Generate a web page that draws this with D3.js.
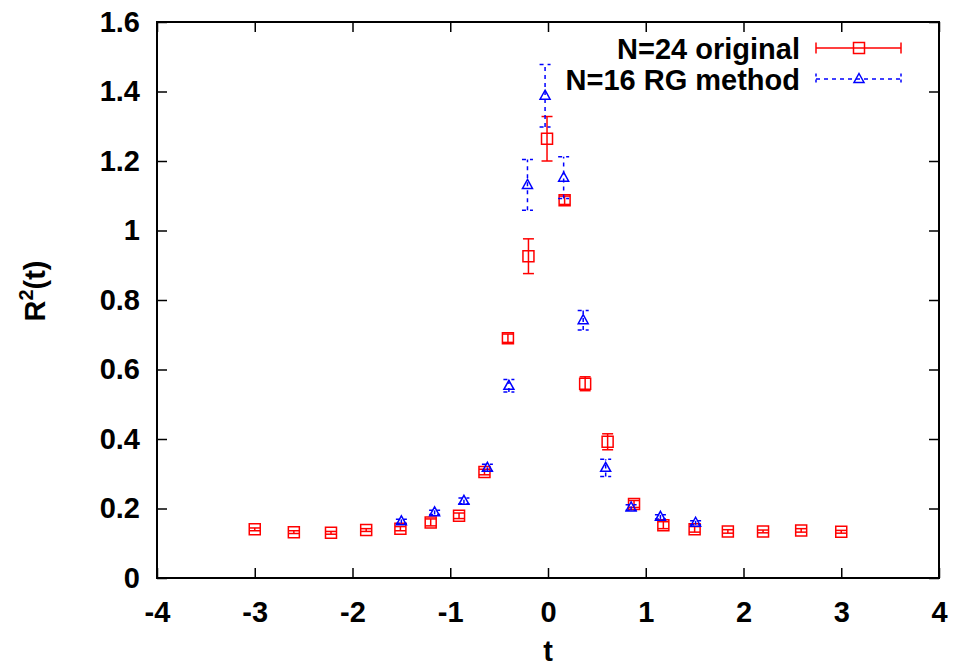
<!DOCTYPE html>
<html>
<head>
<meta charset="utf-8">
<script src="https://cdn.jsdelivr.net/npm/d3@7"></script>
<style>
  html, body { margin: 0; padding: 0; background: #fff; }
  svg text { font-family: "Liberation Sans", Arial, Helvetica, sans-serif; font-weight: bold; }
</style>
</head>
<body>
<svg id="chart" width="955" height="667"></svg>
<script>
// N=24 original lattice: t, R^2(t), statistical error
const origT   = [-3.0, -2.6, -2.22, -1.86, -1.51, -1.2, -0.91, -0.65, -0.41, -0.2, -0.01, 0.17, 0.38, 0.61, 0.88, 1.18, 1.5, 1.84, 2.2, 2.59, 3.0];
const origR2  = [0.140, 0.132, 0.130, 0.138, 0.142, 0.160, 0.179, 0.305, 0.690, 0.926, 1.264, 1.087, 0.559, 0.392, 0.213, 0.152, 0.140, 0.134, 0.134, 0.137, 0.133];
const origErr = [0.004, 0.004, 0.004, 0.004, 0.006, 0.010, 0.008, 0.008, 0.012, 0.050, 0.064, 0.012, 0.020, 0.023, 0.010, 0.010, 0.008, 0.005, 0.004, 0.005, 0.004];

// N=16 lattice obtained with the RG method
const rgT   = [-1.5, -1.16, -0.86, -0.62, -0.4, -0.21, -0.03, 0.16, 0.36, 0.59, 0.85, 1.15, 1.51];
const rgR2  = [0.163, 0.189, 0.222, 0.317, 0.553, 1.131, 1.388, 1.152, 0.742, 0.317, 0.203, 0.176, 0.159];
const rgErr = [0.006, 0.006, 0.008, 0.010, 0.018, 0.073, 0.090, 0.060, 0.028, 0.025, 0.008, 0.006, 0.006];

const xTicks = [-4, -3, -2, -1, 0, 1, 2, 3, 4];
const yTicks = [0, 0.2, 0.4, 0.6, 0.8, 1, 1.2, 1.4, 1.6];
const seriesNames = ["N=24 original", "N=16 RG method"];

const svg = d3.select("#chart");
const plotLeft = 157, plotRight = 939, plotTop = 22, plotBottom = 578;

const x = d3.scaleLinear().domain([-4, 4]).range([plotLeft, plotRight]);
const y = d3.scaleLinear().domain([0, 1.6]).range([plotBottom, plotTop]);

const fontSize = 29;
const tickLen = 10;

// axes with inward ticks on all four sides (plain hyphen for negatives)
const gB = svg.append("g").attr("transform", `translate(0,${plotBottom})`)
  .call(d3.axisBottom(x).tickValues(xTicks).tickFormat(d => String(d))
    .tickSizeInner(-tickLen).tickSizeOuter(0).tickPadding(23));
const gL = svg.append("g").attr("transform", `translate(${plotLeft},0)`)
  .call(d3.axisLeft(y).tickValues(yTicks).tickFormat(d => String(+d.toFixed(1)))
    .tickSizeInner(-tickLen).tickSizeOuter(0).tickPadding(17));
const gT = svg.append("g").attr("transform", `translate(0,${plotTop})`)
  .call(d3.axisTop(x).tickValues(xTicks).tickFormat("").tickSizeInner(-tickLen).tickSizeOuter(0));
const gR = svg.append("g").attr("transform", `translate(${plotRight},0)`)
  .call(d3.axisRight(y).tickValues(yTicks).tickFormat("").tickSizeInner(-tickLen).tickSizeOuter(0));

[gB, gL, gT, gR].forEach(g => {
  g.attr("font-family", null).attr("font-size", null);
  g.select(".domain").remove();
  g.selectAll(".tick line").attr("stroke", "#000").attr("stroke-width", 1.5);
  g.selectAll(".tick text").attr("fill", "#000").attr("font-size", fontSize);
});

// frame
svg.append("rect")
  .attr("x", plotLeft).attr("y", plotTop)
  .attr("width", plotRight - plotLeft).attr("height", plotBottom - plotTop)
  .attr("fill", "none").attr("stroke", "#000").attr("stroke-width", 2);

// axis titles
svg.append("text")
  .attr("x", (plotLeft + plotRight) / 2).attr("y", 661)
  .attr("text-anchor", "middle").attr("font-size", fontSize).attr("fill", "#000")
  .text("t");

const yl = svg.append("text")
  .attr("transform", "translate(45,291) rotate(-90)")
  .attr("text-anchor", "middle").attr("font-size", fontSize).attr("fill", "#000");
yl.append("tspan").text("R");
yl.append("tspan").attr("font-size", 20).attr("dy", -12).text("2");
yl.append("tspan").attr("dy", 12).text("(t)");

// marker shapes
const sq = 5.5;
const squarePath = `M${-sq},${-sq}H${sq}V${sq}H${-sq}Z`;
const trianglePath = "M0,-5.5L5,3.5L-5,3.5Z";
const cap = 5.5;

function drawSeries(ts, vals, errs, color, dash, markerPath) {
  const data = ts.map((t, i) => ({ t, v: vals[i], e: errs[i] }));
  const g = svg.append("g")
    .attr("stroke", color).attr("stroke-width", 1.5).attr("fill", "none");
  const bars = g.selectAll("g.bar").data(data).join("g").attr("class", "bar");
  bars.append("line")
    .attr("x1", d => x(d.t)).attr("x2", d => x(d.t))
    .attr("y1", d => y(d.v - d.e)).attr("y2", d => y(d.v + d.e))
    .attr("stroke-dasharray", dash);
  bars.append("line")
    .attr("x1", d => x(d.t) - cap).attr("x2", d => x(d.t) + cap)
    .attr("y1", d => y(d.v + d.e)).attr("y2", d => y(d.v + d.e))
    .attr("stroke-dasharray", dash);
  bars.append("line")
    .attr("x1", d => x(d.t) - cap).attr("x2", d => x(d.t) + cap)
    .attr("y1", d => y(d.v - d.e)).attr("y2", d => y(d.v - d.e))
    .attr("stroke-dasharray", dash);
  g.selectAll("path.marker").data(data).join("path").attr("class", "marker")
    .attr("d", markerPath)
    .attr("transform", d => `translate(${x(d.t)},${y(d.v)})`);
}

drawSeries(origT, origR2, origErr, "#ff0000", null, squarePath);
drawSeries(rgT, rgR2, rgErr, "#0000ff", "4,4", trianglePath);

// legend
const legendRows = [
  { name: seriesNames[0], color: "#ff0000", dash: null, marker: squarePath, y: 48 },
  { name: seriesNames[1], color: "#0000ff", dash: "4,4", marker: trianglePath, y: 79 }
];
const lx1 = 816, lx2 = 901, lxm = 859;
legendRows.forEach(r => {
  svg.append("text")
    .attr("x", 800).attr("y", r.y + 10.5)
    .attr("text-anchor", "end").attr("font-size", fontSize).attr("fill", "#000")
    .text(r.name);
  const g = svg.append("g").attr("stroke", r.color).attr("stroke-width", 1.5).attr("fill", "none");
  g.append("line").attr("x1", lx1).attr("x2", lx2).attr("y1", r.y).attr("y2", r.y)
    .attr("stroke-dasharray", r.dash);
  [lx1, lx2].forEach(cx => g.append("line")
    .attr("x1", cx).attr("x2", cx).attr("y1", r.y - cap).attr("y2", r.y + cap)
    .attr("stroke-dasharray", r.dash ? "3,3" : null));
  g.append("path").attr("d", r.marker).attr("transform", `translate(${lxm},${r.y})`);
});
</script>
</body>
</html>
